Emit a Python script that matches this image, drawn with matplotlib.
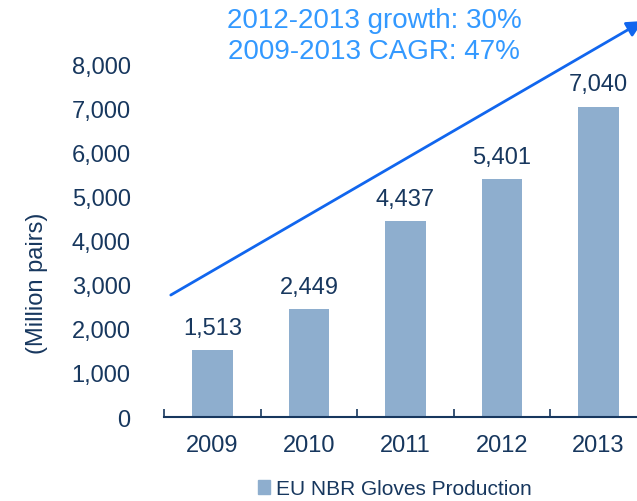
import matplotlib
matplotlib.use("Agg")
import matplotlib.pyplot as plt
from matplotlib.patches import Patch

years = ["2009", "2010", "2011", "2012", "2013"]
production = [1513, 2449, 4437, 5401, 7040]
y_ticks = [0, 1000, 2000, 3000, 4000, 5000, 6000, 7000, 8000]
headline = ["2012-2013 growth: 30%", "2009-2013 CAGR: 47%"]
series_name = "EU NBR Gloves Production"

navy = "#17375E"
bar_color = "#8EAECE"
accent = "#3399FF"
arrow_color = "#1166EE"

plt.rcParams["font.family"] = ["Liberation Sans", "DejaVu Sans"]

fig = plt.figure(figsize=(6.37, 5.02), dpi=100)
ax = fig.add_axes([0.2575, 0.1673, 0.758, 0.7906])

x = range(len(years))
ax.bar(x, production, width=0.42, color=bar_color, zorder=2)

for i, v in enumerate(production):
    ax.annotate(f"{v:,}", (i, v), xytext=(0, 8), textcoords="offset points",
                ha="center", va="bottom", fontsize=17, color=navy)

ax.set_xlim(-0.5, 4.5)
ax.set_ylim(0, 9000)
ax.set_yticks(y_ticks)
ax.set_yticklabels([f"{t:,}" for t in y_ticks])
ax.set_xticks(list(x))
ax.set_xticklabels(years)
ax.tick_params(axis="y", length=0, pad=24, labelsize=17, labelcolor=navy)
ax.tick_params(axis="x", length=0, pad=12, labelsize=17, labelcolor=navy)
# category boundary ticks
ax.set_xticks([i - 0.5 for i in range(len(years) + 1)], minor=True)
ax.tick_params(axis="x", which="minor", direction="in", length=6, width=1.2, color=navy)

for s in ["top", "right", "left"]:
    ax.spines[s].set_visible(False)
ax.spines["bottom"].set_color(navy)
ax.spines["bottom"].set_linewidth(1.5)

ax.set_ylabel("(Million pairs)", fontsize=17, color=navy, labelpad=10)
ax.yaxis.set_label_coords(-0.24, 0.34)

ax.annotate("", xy=(4.46, 8980), xytext=(-0.43, 2766),
            arrowprops=dict(arrowstyle="-|>", color=arrow_color, lw=2,
                            mutation_scale=24, shrinkA=0, shrinkB=0),
            annotation_clip=False)

fig.text(0.587, 0.958, headline[0], ha="center", va="center", fontsize=20, color=accent)
fig.text(0.587, 0.896, headline[1], ha="center", va="center", fontsize=20, color=accent)

fig.legend(handles=[Patch(color=bar_color, label=series_name)],
           loc="center", bbox_to_anchor=(0.62, 0.024), frameon=False,
           fontsize=15, labelcolor=navy, handlelength=0.6, handleheight=0.6,
           handletextpad=0.3)

fig.savefig("out.png", dpi=100)
